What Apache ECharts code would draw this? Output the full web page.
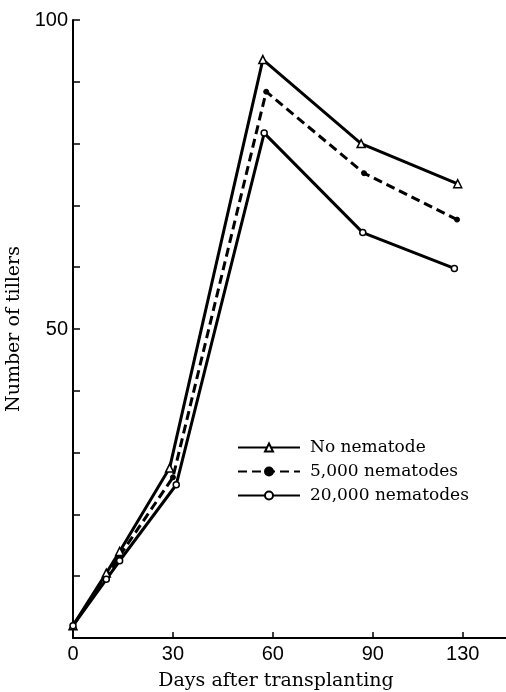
<!DOCTYPE html>
<html>
<head>
<meta charset="utf-8">
<script src="https://cdn.jsdelivr.net/npm/echarts@6/dist/echarts.min.js"></script>
<style>
  html, body { margin: 0; padding: 0; background: #fff; }
  #chart { width: 506px; height: 692px; }
</style>
</head>
<body>
<div id="chart"></div>
<script>
// series: [day position on the axis, number of tillers]
var noNematode = [[0, 2], [10, 10.5], [14, 14], [29, 27.5], [57, 93.6], [86.5, 80], [115.5, 73.5]];
var nematodes5000 = [[0, 2], [10, 10], [14, 13.3], [30, 26], [58, 88.4], [87.4, 75.2], [115.3, 67.7]];
var nematodes20000 = [[0, 2], [10, 9.5], [14, 12.5], [31, 24.8], [57.4, 81.7], [87, 65.6], [114.5, 59.8]];

var seriesNames = ["No nematode", "5,000 nematodes", "20,000 nematodes"];

// x ticks: axis position and printed label
var xTickPos = [0, 30, 60, 90, 117];
var xTickText = ["0", "30", "60", "90", "130"];
var yTickPos = [10, 20, 30, 40, 50, 60, 70, 80, 90, 100];
var yLabelPos = [50, 100];

var serif = "DejaVu Serif";
var digits = "Liberation Sans";

var chart = echarts.init(document.getElementById("chart"));

chart.setOption({
    animation: false,
    backgroundColor: "#fff",
    grid: { left: 73, right: 0, top: 20, bottom: 54, containLabel: false, outerBoundsMode: "none" },
    legend: {
        orient: "vertical",
        left: 237,
        top: 439,
        padding: 0,
        itemWidth: 62,
        itemHeight: 10,
        itemGap: 7,
        textStyle: { fontFamily: serif, fontSize: 17, color: "#000", padding: [0, 0, 0, 5] },
        data: seriesNames
    },
    xAxis: {
        type: "value",
        min: 0,
        max: 130,
        name: "Days after transplanting",
        nameLocation: "middle",
        nameGap: 34,
        nameTextStyle: { fontFamily: serif, fontSize: 19, color: "#000", padding: [0, 27, 0, 0] },
        splitLine: { show: false },
        axisLine: { lineStyle: { color: "#000", width: 2 } },
        axisTick: { inside: true, length: 6, customValues: xTickPos.slice(1), lineStyle: { color: "#000", width: 1.5 } },
        axisLabel: {
            customValues: xTickPos,
            fontFamily: digits,
            fontSize: 20,
            color: "#000",
            margin: 6,
            formatter: function (v) {
                return xTickText[xTickPos.indexOf(v)];
            }
        }
    },
    yAxis: {
        type: "value",
        min: 0,
        max: 100,
        name: "Number of tillers",
        nameLocation: "middle",
        nameGap: 38,
        nameTextStyle: { fontFamily: serif, fontSize: 19, color: "#000" },
        splitLine: { show: false },
        axisLine: { lineStyle: { color: "#000", width: 2 } },
        axisTick: { inside: true, length: 7, customValues: yTickPos, lineStyle: { color: "#000", width: 1.5 } },
        axisLabel: { customValues: yLabelPos, fontFamily: digits, fontSize: 20, color: "#000", margin: 5 }
    },
    series: [
        {
            name: seriesNames[0],
            type: "line",
            data: noNematode,
            symbol: "triangle",
            symbolSize: 8,
            showAllSymbol: true,
            itemStyle: { color: "#fff", borderColor: "#000", borderWidth: 1.5 },
            lineStyle: { color: "#000", width: 3 },
            z: 3
        },
        {
            name: seriesNames[1],
            type: "line",
            data: nematodes5000,
            symbol: "circle",
            symbolSize: 5,
            showAllSymbol: true,
            itemStyle: { color: "#000", borderColor: "#000", borderWidth: 1 },
            lineStyle: { color: "#000", width: 3, type: [9, 5] },
            z: 2
        },
        {
            name: seriesNames[2],
            type: "line",
            data: nematodes20000,
            symbol: "circle",
            symbolSize: 6,
            showAllSymbol: true,
            itemStyle: { color: "#fff", borderColor: "#000", borderWidth: 1.5 },
            lineStyle: { color: "#000", width: 3 },
            z: 3
        }
    ]
});
</script>
</body>
</html>
